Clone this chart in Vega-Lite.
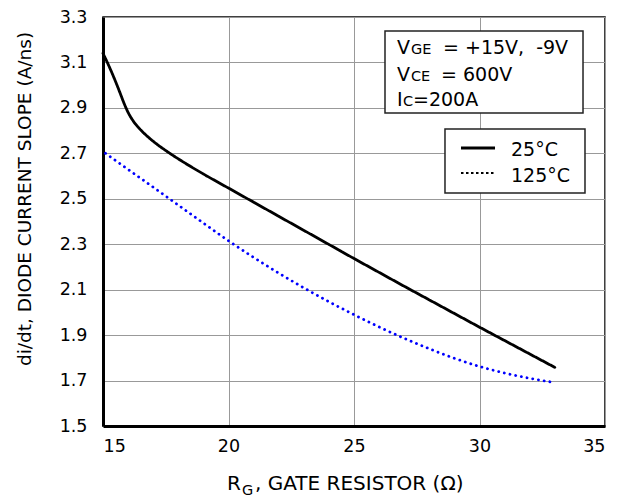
{
  "$schema": "https://vega.github.io/schema/vega-lite/v6.json",
  "width": 502,
  "height": 409,
  "autosize": {"type": "none"},
  "padding": {"left": 103, "top": 17, "right": 27, "bottom": 73},
  "background": "white",
  "config": {
    "view": {"stroke": "black", "strokeWidth": 1.5},
    "font": "DejaVu Sans",
    "axis": {
      "domainColor": "black",
      "domainWidth": 3,
      "ticks": false,
      "grid": true,
      "gridColor": "#999999",
      "gridWidth": 1,
      "labelFont": "DejaVu Sans",
      "labelFontSize": 17.5,
      "labelColor": "black",
      "titleFont": "DejaVu Sans",
      "titleFontSize": 18.5,
      "titleFontWeight": "normal",
      "titleColor": "black"
    }
  },
  "datasets": {
    "curves": [
      {"series": "25°C", "rg": 15.0, "didt": 3.14},
      {"series": "25°C", "rg": 15.25, "didt": 3.081},
      {"series": "25°C", "rg": 15.5, "didt": 3.016},
      {"series": "25°C", "rg": 15.7, "didt": 2.96},
      {"series": "25°C", "rg": 15.85, "didt": 2.917},
      {"series": "25°C", "rg": 16.0, "didt": 2.88},
      {"series": "25°C", "rg": 16.2, "didt": 2.843},
      {"series": "25°C", "rg": 16.4, "didt": 2.815},
      {"series": "25°C", "rg": 16.6, "didt": 2.792},
      {"series": "25°C", "rg": 17.0, "didt": 2.753},
      {"series": "25°C", "rg": 17.65, "didt": 2.701},
      {"series": "25°C", "rg": 18.3, "didt": 2.655},
      {"series": "25°C", "rg": 19.0, "didt": 2.609},
      {"series": "25°C", "rg": 20.0, "didt": 2.547},
      {"series": "25°C", "rg": 21.0, "didt": 2.485},
      {"series": "25°C", "rg": 22.0, "didt": 2.423},
      {"series": "25°C", "rg": 23.0, "didt": 2.361},
      {"series": "25°C", "rg": 24.0, "didt": 2.299},
      {"series": "25°C", "rg": 25.0, "didt": 2.237},
      {"series": "25°C", "rg": 26.0, "didt": 2.176},
      {"series": "25°C", "rg": 27.0, "didt": 2.115},
      {"series": "25°C", "rg": 28.0, "didt": 2.055},
      {"series": "25°C", "rg": 29.0, "didt": 1.995},
      {"series": "25°C", "rg": 30.0, "didt": 1.935},
      {"series": "25°C", "rg": 31.0, "didt": 1.876},
      {"series": "25°C", "rg": 32.0, "didt": 1.817},
      {"series": "25°C", "rg": 33.0, "didt": 1.758},
      {"series": "125°C", "rg": 15.1, "didt": 2.70},
      {"series": "125°C", "rg": 16.0, "didt": 2.629},
      {"series": "125°C", "rg": 17.0, "didt": 2.551},
      {"series": "125°C", "rg": 18.0, "didt": 2.472},
      {"series": "125°C", "rg": 19.0, "didt": 2.393},
      {"series": "125°C", "rg": 20.0, "didt": 2.315},
      {"series": "125°C", "rg": 21.0, "didt": 2.242},
      {"series": "125°C", "rg": 22.0, "didt": 2.173},
      {"series": "125°C", "rg": 23.0, "didt": 2.108},
      {"series": "125°C", "rg": 24.0, "didt": 2.047},
      {"series": "125°C", "rg": 25.0, "didt": 1.99},
      {"series": "125°C", "rg": 26.0, "didt": 1.936},
      {"series": "125°C", "rg": 27.0, "didt": 1.886},
      {"series": "125°C", "rg": 28.0, "didt": 1.84},
      {"series": "125°C", "rg": 29.0, "didt": 1.798},
      {"series": "125°C", "rg": 30.0, "didt": 1.762},
      {"series": "125°C", "rg": 31.0, "didt": 1.733},
      {"series": "125°C", "rg": 32.0, "didt": 1.71},
      {"series": "125°C", "rg": 32.9, "didt": 1.693}
    ]
  },
  "layer": [
    {
      "data": {"name": "curves"},
      "mark": {"type": "line", "interpolate": "monotone", "strokeCap": "round", "strokeWidth": 2.8},
      "encoding": {
        "x": {"field": "rg", "type": "quantitative", "scale": {"domain": [15, 35], "nice": false, "zero": false},
              "axis": {"values": [15, 20, 25, 30, 35], "labelPadding": 11, "title": null}},
        "y": {"field": "didt", "type": "quantitative", "scale": {"domain": [1.5, 3.3], "nice": false, "zero": false},
              "axis": {"values": [1.5, 1.7, 1.9, 2.1, 2.3, 2.5, 2.7, 2.9, 3.1, 3.3], "format": ".1f", "labelPadding": 16,
                       "title": "di/dt, DIODE CURRENT SLOPE (A/ns)", "titleX": -79, "titleY": 181.5, "titleAngle": 270,
                       "titleAlign": "center", "titleBaseline": "middle"}},
        "color": {"field": "series", "type": "nominal", "scale": {"domain": ["25°C", "125°C"], "range": ["black", "#0000ff"]}, "legend": null},
        "strokeDash": {"field": "series", "type": "nominal", "scale": {"domain": ["25°C", "125°C"], "range": [[1, 0], [0.1, 5.7]]}, "legend": null},
        "detail": {"field": "series"}
      }
    },
    {
      "data": {"values": [{"box": "conditions", "x1": 26.235, "x2": 34.124, "y1": 3.2384, "y2": 2.8775},
                          {"box": "legend", "x1": 28.625, "x2": 34.203, "y1": 2.8071, "y2": 2.5254}]},
      "mark": {"type": "rect", "fill": "white", "stroke": "#222222", "strokeWidth": 1.5},
      "encoding": {
        "x": {"field": "x1", "type": "quantitative"},
        "x2": {"field": "x2"},
        "y": {"field": "y1", "type": "quantitative"},
        "y2": {"field": "y2"}
      }
    },
    {
      "data": {"values": [
        {"t": "V", "x": 26.713, "y": 3.1372, "s": 19},
        {"t": "GE", "x": 27.27, "y": 3.1372, "s": 14.5},
        {"t": "= +15V,\u00a0 -9V", "x": 28.546, "y": 3.1372, "s": 19},
        {"t": "V", "x": 26.713, "y": 3.0183, "s": 19},
        {"t": "CE", "x": 27.27, "y": 3.0183, "s": 14.5},
        {"t": "= 600V", "x": 28.466, "y": 3.0183, "s": 19},
        {"t": "I", "x": 26.713, "y": 2.9083, "s": 19},
        {"t": "C", "x": 26.952, "y": 2.9083, "s": 14.5},
        {"t": "=200A", "x": 27.351, "y": 2.9083, "s": 19},
        {"t": "25°C", "x": 31.255, "y": 2.6883, "s": 19},
        {"t": "125°C", "x": 31.255, "y": 2.5739, "s": 19},
        {"t": "R", "x": 19.94, "y": 1.2183, "s": 20},
        {"t": "G", "x": 20.538, "y": 1.1963, "s": 14.5},
        {"t": ", GATE RESISTOR (Ω)", "x": 21.056, "y": 1.2183, "s": 20}
      ]},
      "mark": {"type": "text", "align": "left", "baseline": "alphabetic", "color": "black", "font": "DejaVu Sans"},
      "encoding": {
        "x": {"field": "x", "type": "quantitative"},
        "y": {"field": "y", "type": "quantitative"},
        "text": {"field": "t"},
        "size": {"field": "s", "type": "quantitative", "scale": null}
      }
    },
    {
      "data": {"values": [{"series": "25°C", "x1": 29.263, "x2": 30.618, "y": 2.7235}]},
      "mark": {"type": "rule", "color": "black", "strokeWidth": 3},
      "encoding": {
        "x": {"field": "x1", "type": "quantitative"},
        "x2": {"field": "x2"},
        "y": {"field": "y", "type": "quantitative"}
      }
    },
    {
      "data": {"values": [{"series": "125°C", "x1": 29.263, "x2": 30.618, "y": 2.6134}]},
      "mark": {"type": "rule", "color": "black", "strokeWidth": 2.2, "strokeDash": [2.5, 2.5]},
      "encoding": {
        "x": {"field": "x1", "type": "quantitative"},
        "x2": {"field": "x2"},
        "y": {"field": "y", "type": "quantitative"}
      }
    }
  ]
}
